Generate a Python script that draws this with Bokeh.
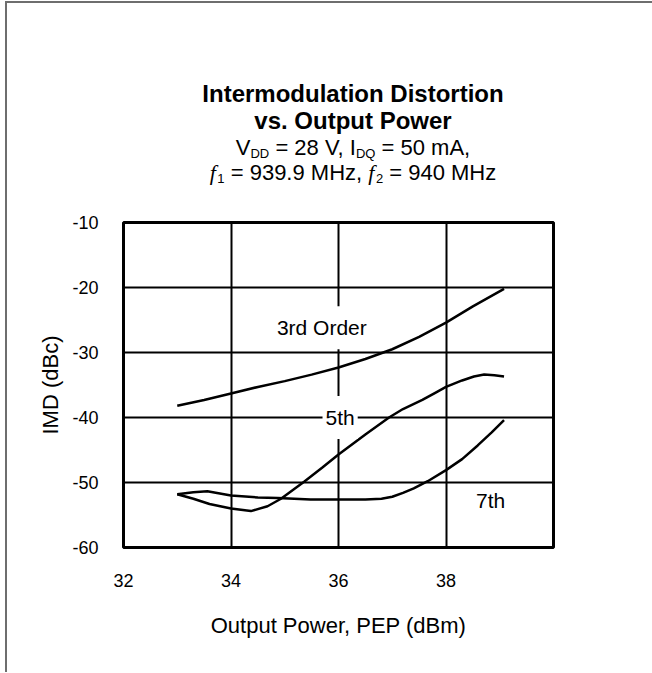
from bokeh.plotting import figure
from bokeh.layouts import column
from bokeh.models import Label, FixedTicker, Div
from bokeh.embed import file_html
from bokeh.resources import INLINE

# ---------------- data ----------------
x_ticks = [32, 34, 36, 38]
y_ticks = [-60, -50, -40, -30, -20, -10]

third_x = [33.0, 33.5, 34.0, 34.5, 35.0, 35.5, 36.0, 36.5, 37.0, 37.5, 38.0, 38.5, 39.08]
third_y = [-38.2, -37.3, -36.3, -35.3, -34.4, -33.4, -32.3, -31.0, -29.5, -27.6, -25.4, -22.9, -20.2]

fifth_x = [33.0, 33.3, 33.6, 34.0, 34.37, 34.68, 34.93, 35.36, 35.7, 36.0, 36.5, 36.94,
           37.2, 37.56, 37.8, 38.0, 38.3, 38.52, 38.71, 38.9, 39.08]
fifth_y = [-51.8, -52.5, -53.3, -54.0, -54.4, -53.65, -52.5, -49.9, -47.7, -45.7, -42.6, -40.0,
           -38.7, -37.3, -36.2, -35.3, -34.3, -33.7, -33.4, -33.5, -33.7]

seventh_x = [33.0, 33.3, 33.56, 34.0, 34.5, 34.87, 35.48, 36.0, 36.5, 36.8, 37.0, 37.2, 37.4,
             37.66, 38.0, 38.3, 38.59, 38.85, 39.08]
seventh_y = [-51.8, -51.5, -51.35, -52.0, -52.3, -52.4, -52.6, -52.6, -52.6, -52.5, -52.2, -51.6, -50.9,
             -49.8, -48.1, -46.4, -44.3, -42.3, -40.4]

curve_labels = ["3rd Order", "5th", "7th"]
label_x = [35.69, 36.03, 38.83]
label_y = [-26.2, -40.0, -52.75]
label_masks_grid = [True, True, False]

title_lines = ["Intermodulation Distortion", "vs. Output Power"]
x_label = "Output Power, PEP (dBm)"
y_label = "IMD (dBc)"

# ---------------- layout ----------------
FONT = "Liberation Sans"
W = 645
DIV_H = 195
FIG_H = 474
L, R, T, B = 116, 99, 24, 125

sub = "font-size:13px;vertical-align:-3px;line-height:0"
subf = sub + ";margin-left:1.5px"
it = "font-family:'Liberation Serif';font-style:italic"
html = (
    f"<div style=\"font-family:'{FONT}';color:black;text-align:center;"
    f"margin-left:96px;width:500px;padding-top:76.6px\">"
    f"<div style='font-weight:bold;font-size:24px;line-height:27.6px'>"
    f"{title_lines[0]}<br>{title_lines[1]}</div>"
    f"<div style='font-size:22px;line-height:25.5px'>"
    f"V<span style='{sub}'>DD</span> = 28 V, I<span style='{sub}'>DQ</span> = 50 mA,<br>"
    f"<span style=\"{it}\">f</span><span style='{subf}'>1</span> = 939.9 MHz, "
    f"<span style=\"{it}\">f</span><span style='{subf}'>2</span> = 940 MHz"
    f"</div></div>"
)
header = Div(text=html, width=W, height=DIV_H, margin=0)

p = figure(width=W, height=FIG_H, x_range=(32, 40), y_range=(-60, -10),
           output_backend="svg", toolbar_location=None,
           min_border_left=L, min_border_right=R, min_border_top=T, min_border_bottom=B,
           x_axis_label=x_label, y_axis_label=y_label, margin=0)

p.background_fill_color = "white"
p.border_fill_color = "white"
p.outline_line_color = "black"
p.outline_line_width = 3
p.outline_line_alpha = 1

p.xaxis.ticker = FixedTicker(ticks=x_ticks)
p.yaxis.ticker = FixedTicker(ticks=y_ticks)
p.xaxis.major_label_overrides = {v: str(v) for v in x_ticks}
p.yaxis.major_label_overrides = {v: str(v) for v in y_ticks}
p.xgrid.ticker = FixedTicker(ticks=x_ticks + [40])
p.ygrid.ticker = FixedTicker(ticks=y_ticks)
for g in (p.xgrid, p.ygrid):
    g.grid_line_color = "black"
    g.grid_line_width = 2
    g.grid_line_alpha = 1

for ax in (p.xaxis, p.yaxis):
    ax.axis_line_color = None
    ax.major_tick_line_color = None
    ax.minor_tick_line_color = None
    ax.major_tick_out = 0
    ax.major_tick_in = 0
    ax.major_label_text_font = FONT
    ax.major_label_text_font_size = "18px"
    ax.major_label_text_color = "black"
    ax.axis_label_text_font = FONT
    ax.axis_label_text_font_size = "22px"
    ax.axis_label_text_font_style = "normal"
    ax.axis_label_text_color = "black"

p.xaxis.major_label_standoff = 26
p.xaxis.axis_label_standoff = 23
p.yaxis.major_label_standoff = 25
p.yaxis.axis_label_standoff = 6

for xs, ys in ((third_x, third_y), (fifth_x, fifth_y), (seventh_x, seventh_y)):
    p.line(xs, ys, line_color="black", line_width=2.5)

for t, lx, ly, mask in zip(curve_labels, label_x, label_y, label_masks_grid):
    p.add_layout(Label(x=lx, y=ly, text=t, text_font=FONT, text_font_size="21px",
                       text_align="center", text_baseline="middle", text_color="black",
                       background_fill_color="white" if mask else None,
                       padding=(3, 10)))

layout = column(header, p, spacing=0, margin=0,
                styles={"margin-left": "5px", "margin-top": "1px",
                        "border-left": "2px solid #6e6e6e",
                        "border-top": "2px solid #6e6e6e"})
open("out.html", "w").write(file_html(layout, INLINE))
